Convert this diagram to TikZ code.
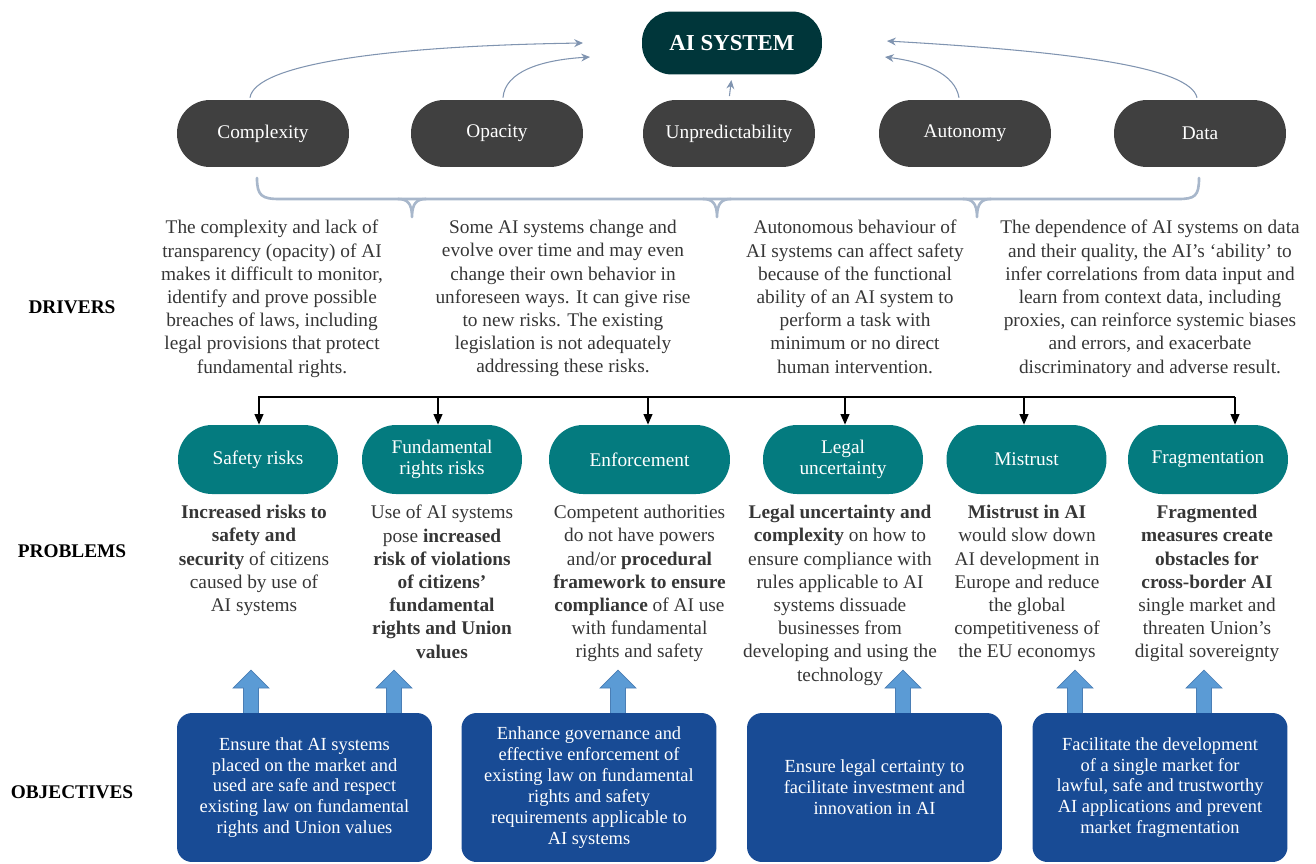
\documentclass[tikz,border=0pt]{standalone}
\usepackage{fontspec}
\setmainfont{Liberation Serif}
\usepackage{tikz}
\usetikzlibrary{arrows.meta,calc}

\definecolor{aiteal}{HTML}{00363A}
\definecolor{drvgray}{HTML}{404040}
\definecolor{probteal}{HTML}{047B7F}
\definecolor{objblue}{HTML}{184B95}
\definecolor{arrowblue}{HTML}{5B9BD5}
\definecolor{arrowedge}{HTML}{4A7EB5}
\definecolor{linkgray}{HTML}{8094B0}
\definecolor{bracegray}{HTML}{A8B7CB}
\definecolor{bodytext}{HTML}{363636}

\begin{document}
\begin{tikzpicture}[x=0.02cm, y=-0.02cm,
    aibox/.style={fill=aiteal, text=white, rounded corners=0.6cm, minimum width=3.6cm, minimum height=1.26cm, font=\fontsize{13}{15}\selectfont\bfseries},
    drvbox/.style={fill=drvgray, text=white, rounded corners=0.66cm, minimum width=3.44cm, minimum height=1.34cm, font=\fontsize{11}{13}\selectfont},
    probbox/.style={fill=probteal, text=white, rounded corners=0.68cm, minimum width=3.2cm, minimum height=1.38cm, align=center, font=\fontsize{11}{12}\selectfont},
    objbox/.style={fill=objblue, text=white, rounded corners=0.3cm, minimum width=5.1cm, minimum height=2.98cm, align=center, font=\fontsize{10.5}{11.9}\selectfont},
    notetext/.style={anchor=north, inner sep=0pt, align=center, text=bodytext, font=\fontsize{11}{13.2}\selectfont},
    rowlabel/.style={font=\fontsize{11}{13}\selectfont\bfseries},
    feedarrow/.style={draw=linkgray, line width=0.6pt, -{Stealth[length=5pt,width=4.5pt]}},
    flowarrow/.style={line width=0.9pt, -{Triangle[length=6pt,width=5pt]}},
    bracebar/.style={draw=bracegray, line width=1.5pt, line cap=round},
    blockarrow/.style={fill=arrowblue, draw=arrowedge, line width=0.4pt, line join=miter}]

\useasboundingbox (0,0) rectangle (1316,863);

% AI system and drivers
\node [aibox] (ai) at (732,43) {AI SYSTEM};
\node [drvbox] (cpx) at (263,133.5) {Complexity};
\node [drvbox] (opa) at (497,133.5) {Opacity};
\node [drvbox] (unp) at (729,133.5) {Unpredictability};
\node [drvbox] (aut) at (965,133.5) {Autonomy};
\node [drvbox] (dat) at (1200,133.5) {Data};

\coordinate (inL1) at (583,43);
\coordinate (inL2) at (590,57);
\coordinate (inR2) at (885,57);
\coordinate (inR1) at (887,41);
\draw [feedarrow] ($(cpx.north)+(-13,-2)$) .. controls (255,65) and (380,46) .. (inL1);
\draw [feedarrow] ($(opa.north)+(6,-2)$) .. controls (505,72) and (540,60) .. (inL2);
\draw [feedarrow, shorten <=2pt, shorten >=3pt] (unp.north) -- (ai.south);
\draw [feedarrow] ($(aut.north)+(-6,-2)$) .. controls (955,74) and (925,62) .. (inR2);
\draw [feedarrow] ($(dat.north)+(-3,-2)$) .. controls (1190,68) and (1080,52) .. (inR1);

% brace under the drivers
\draw [bracebar] (257,178) .. controls (257,196) and (262,199) .. (280,199) -- (1178,199)
    .. controls (1195,199) and (1199,196) .. (1199,178);
\foreach \bx in {412,717,977}
    \draw [bracebar] (\bx-14,199) .. controls (\bx-5,199) and (\bx,203) .. (\bx,217)
        (\bx+14,199) .. controls (\bx+5,199) and (\bx,203) .. (\bx,217);

% driver texts
\node [notetext] (d1) at (272,220) {The complexity and lack of\\ transparency (opacity) of AI\\ makes it difficult to monitor,\\ identify and prove possible\\ breaches of laws, including\\ legal provisions that protect\\ fundamental rights.};
\node [notetext] (d2) at (563,220) {Some AI systems change and\\ evolve over time and may even\\ change their own behavior in\\ unforeseen ways. It can give rise\\ to new risks. The existing\\ legislation is not adequately\\ addressing these risks.};
\node [notetext] (d3) at (855,220) {Autonomous behaviour of\\ AI systems can affect safety\\ because of the functional\\ ability of an AI system to\\ perform a task with\\ minimum or no direct\\ human intervention.};
\node [notetext] (d4) at (1150,220) {The dependence of AI systems on data\\ and their quality, the AI’s ‘ability’ to\\ infer correlations from data input and\\ learn from context data, including\\ proxies, can reinforce systemic biases\\ and errors, and exacerbate\\ discriminatory and adverse result.};

% row labels
\node [rowlabel] (lbd) at (72,307) {DRIVERS};
\node [rowlabel] (lbp) at (72,551) {PROBLEMS};
\node [rowlabel] (lbo) at (72,792) {OBJECTIVES};

% problems
\node [probbox] (sft) at (258,459.5) {Safety risks};
\node [probbox] (frr) at (442,459.5) {Fundamental\\ rights risks};
\node [probbox, minimum width=3.62cm] (enf) at (639.5,459.5) {Enforcement};
\node [probbox] (leg) at (843,459.5) {Legal\\ uncertainty};
\node [probbox] (mis) at (1026.5,459.5) {Mistrust};
\node [probbox] (frg) at (1208,459.5) {Fragmentation};

\coordinate (barL) at (258,397);
\coordinate (barR) at (1235,397);
\draw [line width=0.9pt] (barL) -- (barR);
\foreach \n/\dx in {sft/1,frr/-4,enf/8.5,leg/2,mis/-2.5,frg/27}
    \draw [flowarrow] ($(barL -| \n.north)+(\dx,0)$) -- ($(\n.north)+(\dx,0)$);

\node [notetext] (p1) at (254,505) {\textbf{Increased risks to}\\ \textbf{safety and}\\ \textbf{security} of citizens\\ caused by use of\\ AI systems};
\node [notetext] (p2) at (442,505) {Use of AI systems\\ pose \textbf{increased}\\ \textbf{risk of violations}\\ \textbf{of citizens’}\\ \textbf{fundamental}\\ \textbf{rights and Union}\\ \textbf{values}};
\node [notetext] (p3) at (639.5,505) {Competent authorities\\ do not have powers\\ and/or \textbf{procedural}\\ \textbf{framework to ensure}\\ \textbf{compliance} of AI use\\ with fundamental\\ rights and safety};
\node [notetext] (p4) at (840,505) {\textbf{Legal uncertainty and}\\ \textbf{complexity} on how to\\ ensure compliance with\\ rules applicable to AI\\ systems dissuade\\ businesses from\\ developing and using the\\ technology};
\node [notetext] (p5) at (1027,505) {\textbf{Mistrust in AI}\\ would slow down\\ AI development in\\ Europe and reduce\\ the global\\ competitiveness of\\ the EU economys};
\node [notetext] (p6) at (1207,505) {\textbf{Fragmented}\\ \textbf{measures create}\\ \textbf{obstacles for}\\ \textbf{cross-border AI}\\ single market and\\ threaten Union’s\\ digital sovereignty};

% objectives
\foreach \ax in {251,394,618,903,1075,1204}
    \filldraw [blockarrow] (\ax-7.5,714) -- (\ax-7.5,688) -- (\ax-18,688) -- (\ax,670)
        -- (\ax+18,688) -- (\ax+7.5,688) -- (\ax+7.5,714) -- cycle;

\node [objbox] (o1) at (304.5,787.5) {Ensure that AI systems\\ placed on the market and\\ used are safe and respect\\ existing law on fundamental\\ rights and Union values};
\node [objbox] (o2) at (589,787.5) {Enhance governance and\\ effective enforcement of\\ existing law on fundamental\\ rights and safety\\ requirements applicable to\\ AI systems};
\node [objbox] (o3) at (874.5,787.5) {Ensure legal certainty to\\ facilitate investment and\\ innovation in AI};
\node [objbox] (o4) at (1160,787.5) {Facilitate the development\\ of a single market for\\ lawful, safe and trustworthy\\ AI applications and prevent\\ market fragmentation};
\end{tikzpicture}
\end{document}
